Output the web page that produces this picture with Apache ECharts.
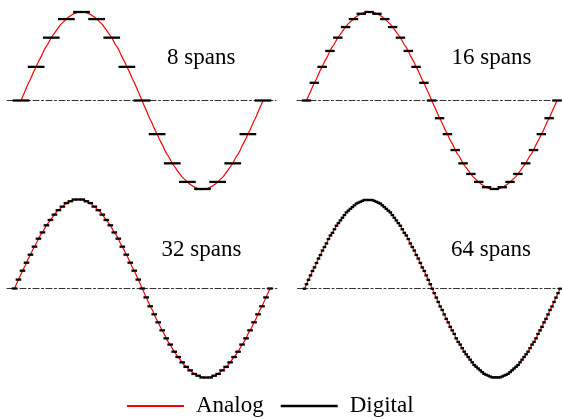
<!DOCTYPE html>
<html>
<head>
<meta charset="utf-8">
<script src="https://cdn.jsdelivr.net/npm/echarts@6/dist/echarts.min.js"></script>
<style>
  html, body { margin: 0; padding: 0; background: #fff; }
  #chart { width: 562px; height: 419px; }
</style>
</head>
<body>
<div id="chart"></div>
<script>
// one period of the analog wave, 128 steps (also the 64-span samples)
var wave = [
  0, .05, .10, .15, .20, .24, .29, .34, .38, .43, .47, .51, .56, .60, .63, .67,
  .71, .74, .77, .80, .83, .86, .88, .90, .92, .94, .96, .97, .98, .99, 1, 1, 1,
  1, 1, .99, .98, .97, .96, .94, .92, .90, .88, .86, .83, .80, .77, .74, .71,
  .67, .63, .60, .56, .51, .47, .43, .38, .34, .29, .24, .20, .15, .10, .05, 0,
  -.05, -.10, -.15, -.20, -.24, -.29, -.34, -.38, -.43, -.47, -.51, -.56, -.60, -.63, -.67, -.71,
  -.74, -.77, -.80, -.83, -.86, -.88, -.90, -.92, -.94, -.96, -.97, -.98, -.99, -1, -1, -1,
  -1, -1, -.99, -.98, -.97, -.96, -.94, -.92, -.90, -.88, -.86, -.83, -.80, -.77, -.74, -.71,
  -.67, -.63, -.60, -.56, -.51, -.47, -.43, -.38, -.34, -.29, -.24, -.20, -.15, -.10, -.05, 0
];
var d8 = [0, .38, .71, .92, 1, .92, .71, .38, 0, -.38, -.71, -.92, -1, -.92, -.71, -.38, 0];
var d16 = [0, .20, .38, .56, .71, .83, .92, .98, 1, .98, .92, .83, .71, .56, .38, .20, 0,
  -.20, -.38, -.56, -.71, -.83, -.92, -.98, -1, -.98, -.92, -.83, -.71, -.56, -.38, -.20, 0];
var d32 = [0, .10, .20, .29, .38, .47, .56, .63, .71, .77, .83, .88, .92, .96, .98, 1, 1,
  1, .98, .96, .92, .88, .83, .77, .71, .63, .56, .47, .38, .29, .20, .10, 0,
  -.10, -.20, -.29, -.38, -.47, -.56, -.63, -.71, -.77, -.83, -.88, -.92, -.96, -.98, -1, -1,
  -1, -.98, -.96, -.92, -.88, -.83, -.77, -.71, -.63, -.56, -.47, -.38, -.29, -.20, -.10, 0];
var d64 = wave;
var spanLabels = ['8 spans', '16 spans', '32 spans', '64 spans'];
var digital = [d8, d16, d32, d64];

// panel placement in pixels: wave start/end, zero line, amplitude, dash-dot extent, label
var frames = [
  { x0: 21, x1: 263, y0: 100.5, amp: 88.5, l: 7, r: 276, lx: 167, ly: 46.5 },
  { x0: 306.5, x1: 557, y0: 100.5, amp: 88.5, l: 297, r: 562, lx: 451.5, ly: 46.5 },
  { x0: 14.5, x1: 270, y0: 288.5, amp: 89, l: 7, r: 277, lx: 161.5, ly: 238.5 },
  { x0: 304.5, x1: 560, y0: 288.7, amp: 88.7, l: 297.5, r: 562, lx: 451, ly: 238.5 }
];

var serif = '"Liberation Serif", "Times New Roman", serif';
var chart = echarts.init(document.getElementById('chart'), null, { renderer: 'canvas' });

var grids = [], xAxes = [], yAxes = [], series = [], titles = [];
frames.forEach(function(f, p) {
  var span = f.x1 - f.x0;
  grids.push({ left: f.l, top: f.y0 - f.amp, width: f.r - f.l, height: 2 * f.amp });
  xAxes.push({
    gridIndex: p, type: 'value',
    min: -(f.x0 - f.l) / span, max: 1 + (f.r - f.x1) / span,
    axisLine: { show: true, onZero: true, lineStyle: { color: '#333', width: 1, type: [6, 2.5, 2, 2.5] } },
    axisTick: { show: false }, axisLabel: { show: false }, splitLine: { show: false }
  });
  yAxes.push({ gridIndex: p, type: 'value', min: -1, max: 1, show: false });

  series.push({
    name: 'Analog', type: 'line', xAxisIndex: p, yAxisIndex: p,
    data: wave.map(function(v, i) { return [i / (wave.length - 1), v]; }),
    symbol: 'none', z: 2,
    lineStyle: { color: '#ff0000', width: 1.2 },
    itemStyle: { color: '#ff0000' }
  });

  var pts = digital[p];
  var half = 0.5 / (pts.length - 1);
  series.push({
    name: 'Digital', type: 'custom', xAxisIndex: p, yAxisIndex: p, z: 3,
    data: pts.map(function(v, i) { return [i / (pts.length - 1), v]; }),
    itemStyle: { color: '#000' },
    renderItem: function(params, api) {
      var a = api.coord([api.value(0) - half, api.value(1)]);
      var b = api.coord([api.value(0) + half, api.value(1)]);
      return {
        type: 'line',
        shape: { x1: a[0] - 0.8, y1: a[1], x2: b[0] + 0.8, y2: b[1] },
        style: { stroke: '#000', lineWidth: 2.3 }
      };
    },
    clip: false
  });

  titles.push({
    text: spanLabels[p], left: f.lx, top: f.ly, padding: 0,
    textStyle: { fontFamily: serif, fontSize: 23, fontWeight: 'normal', color: '#000' }
  });
});

chart.setOption({
  animation: false,
  title: titles,
  grid: grids,
  xAxis: xAxes,
  yAxis: yAxes,
  legend: {
    data: [{ name: 'Analog' }, { name: 'Digital', icon: 'rect', itemStyle: { color: '#000' } }],
    left: 126, top: 394.5, padding: 0,
    itemWidth: 57, itemHeight: 2.5, itemGap: 17,
    selectedMode: false,
    textStyle: { fontFamily: serif, fontSize: 23, color: '#000', padding: [0, 0, 0, 7] }
  },
  series: series
});
</script>
</body>
</html>
